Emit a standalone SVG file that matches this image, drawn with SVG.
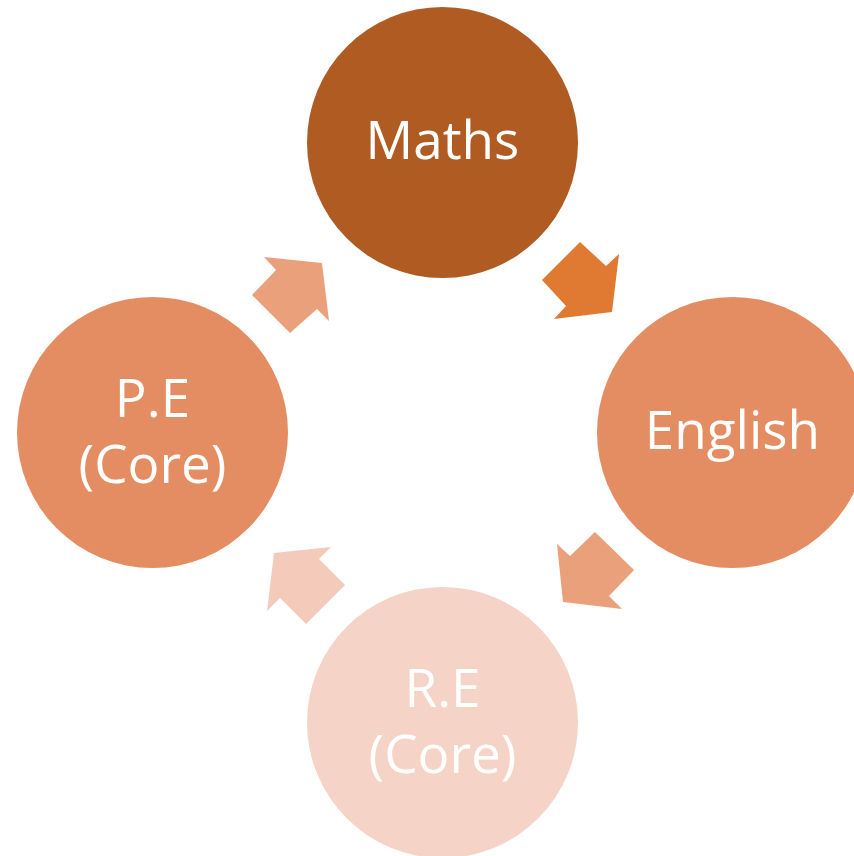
<svg xmlns="http://www.w3.org/2000/svg" width="854" height="856" viewBox="0 0 854 856">
<style>
.lbl{font-family:"Open Sans","Liberation Sans",sans-serif;font-size:53px;fill:#FFFFFF;text-anchor:middle}
</style>
<rect width="854" height="856" fill="#FFFFFF"/>
<g id="connectors">
<polygon id="arrow-maths-english" points="580,242 606,266 619,254 612,312 554,319 566,306 542,280" fill="#E07A32"/>
<polygon id="arrow-english-re" points="595,532 634,570 609,596 622,609 563,602 557,544 570,556" fill="#EBA07C"/>
<polygon id="arrow-re-pe" points="345,585 306,624 280,598 267,611 274,553 331,547 319,559" fill="#F4CABB"/>
<polygon id="arrow-pe-maths" points="252,295 276,270 264,257 322,263 329,321 317,309 290,333" fill="#EBA07C"/>
</g>
<g id="maths">
<circle cx="442.5" cy="142.5" r="135.5" fill="#AF5B22"/>
<text class="lbl" x="442.5" y="159">Maths</text>
</g>
<g id="english">
<circle cx="732.5" cy="432.5" r="135.5" fill="#E58D62"/>
<text class="lbl" x="732.5" y="449">English</text>
</g>
<g id="re">
<circle cx="442.5" cy="722.5" r="135.5" fill="#F5D3C7"/>
<text class="lbl" x="442.5" y="706.5">R.E</text>
<text class="lbl" x="442.5" y="773">(Core)</text>
</g>
<g id="pe">
<circle cx="152.5" cy="432.5" r="135.5" fill="#E58D62"/>
<text class="lbl" x="152.5" y="416.5">P.E</text>
<text class="lbl" x="152.5" y="483">(Core)</text>
</g>
</svg>
